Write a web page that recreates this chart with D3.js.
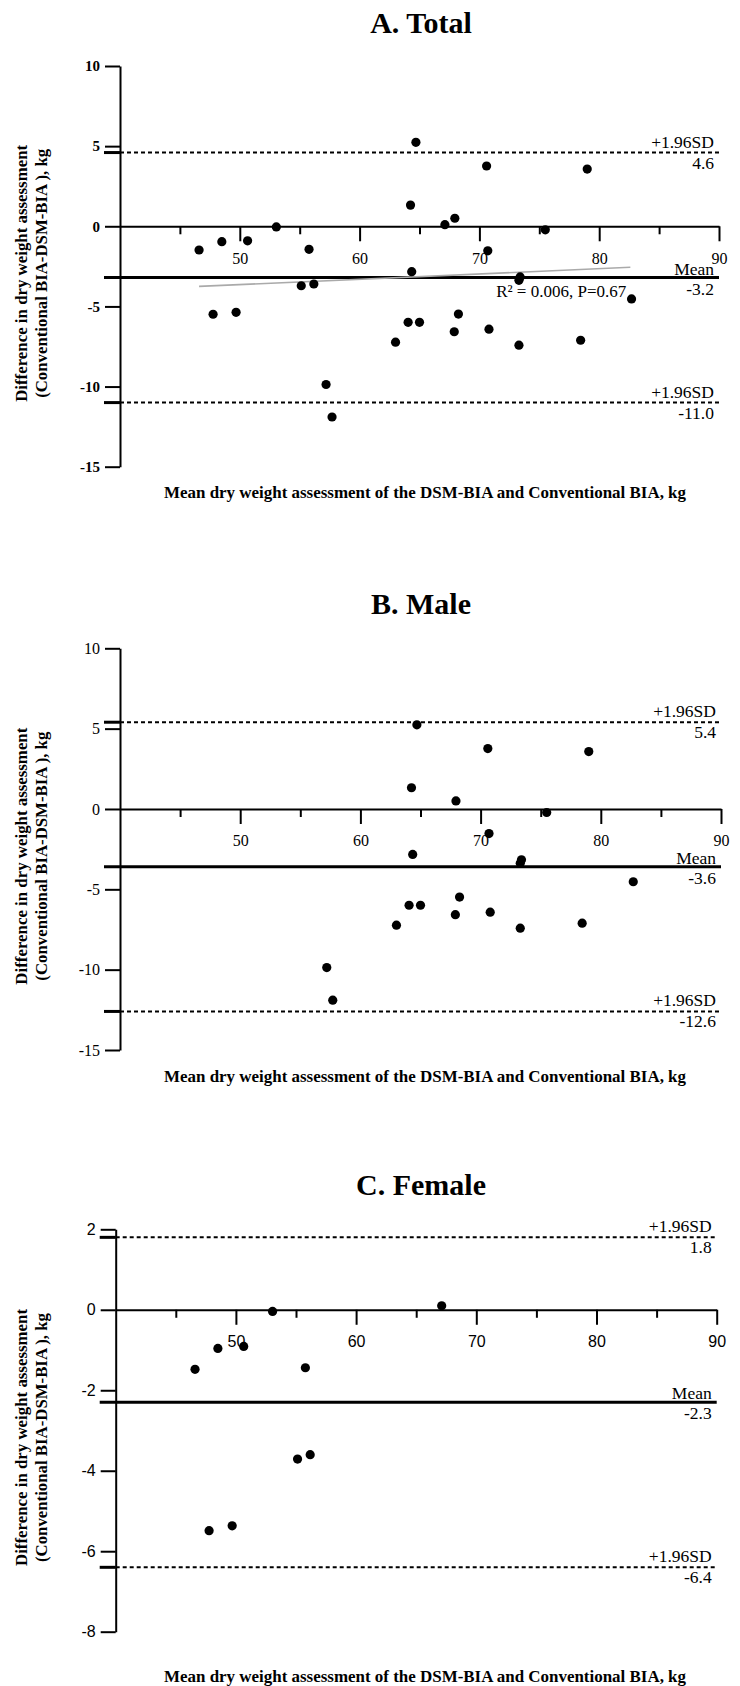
<!DOCTYPE html>
<html>
<head>
<meta charset="utf-8">
<script src="https://cdn.jsdelivr.net/npm/d3@7"></script>
<style>
  body { margin: 0; background: #fff; }
  svg { display: block; }
</style>
</head>
<body>
<div id="chart"></div>
<script>
// Bland-Altman points (x = mean weight, y = difference)
const maleX = [57.2, 57.7, 64.7, 70.6, 79.0, 64.25, 67.95, 75.5, 70.7, 64.35, 73.4, 73.3, 82.7, 68.25, 64.05, 65.0, 67.9, 70.8, 63.0, 73.3, 78.45];
const maleY = [-9.87, -11.9, 5.24, 3.76, 3.57, 1.32, 0.5, -0.22, -1.53, -2.83, -3.16, -3.37, -4.53, -5.48, -5.99, -5.99, -6.58, -6.42, -7.23, -7.42, -7.11];
const femaleX = [46.6, 48.5, 50.65, 53.05, 55.78, 55.13, 56.18, 47.77, 49.69, 67.12];
const femaleY = [-1.48, -0.96, -0.91, -0.04, -1.44, -3.71, -3.6, -5.49, -5.37, 0.1];

// upper limit, mean, lower limit
const totalLimits = [4.6, -3.2, -11.0];
const maleLimits = [5.4, -3.6, -12.6];
const femaleLimits = [1.8, -2.3, -6.4];

// regression line in the total panel (end points)
const regX = [46.6, 82.6];
const regY = [-3.75, -2.56];
const regText = "R\u00b2 = 0.006, P=0.67";

const xMajorTicks = [50, 60, 70, 80, 90];
const xMinorTicks = [45, 55, 65, 75, 85];
const yTicksWide = [10, 5, 0, -5, -10, -15];
const yTicksFemale = [2, 0, -2, -4, -6, -8];

const xTitle = "Mean dry weight assessment of the DSM-BIA and Conventional BIA, kg";
const yTitle1 = "Difference in dry weight assessment";
const yTitle2 = "(Conventional BIA-DSM-BIA ), kg";

const SERIF = "'Liberation Serif', 'Times New Roman', serif";
const SANS = "'Liberation Sans', Arial, sans-serif";

const totalX = maleX.concat(femaleX);
const totalY = maleY.concat(femaleY);

const panels = [
  { title: "A. Total", titleY: 33, xs: totalX, ys: totalY, limits: totalLimits,
    xRange: [120, 719], yDomain: [10, -15], yRange: [66, 466.7], yTicks: yTicksWide,
    yFont: SERIF, yWeight: "bold", xFont: SERIF, xLabelY: 498, reg: true },
  { title: "B. Male", titleY: 614, xs: maleX, ys: maleY, limits: maleLimits,
    xRange: [120, 721], yDomain: [10, -15], yRange: [648.3, 1050], yTicks: yTicksWide,
    yFont: SERIF, yWeight: "normal", xFont: SERIF, xLabelY: 1082 },
  { title: "C. Female", titleY: 1195, xs: femaleX, ys: femaleY, limits: femaleLimits,
    xRange: [115.7, 716.7], yDomain: [2, -8], yRange: [1229.3, 1631.7], yTicks: yTicksFemale,
    yFont: SANS, yWeight: "normal", xFont: SANS, xLabelY: 1682 }
];

const svg = d3.select("#chart").append("svg")
  .attr("width", 740)
  .attr("height", 1686);

panels.forEach(p => {
  const x = d3.scaleLinear().domain([40, 90]).range(p.xRange);
  const y = d3.scaleLinear().domain(p.yDomain).range(p.yRange);
  const g = svg.append("g");
  const x0 = p.xRange[0], x1 = p.xRange[1];

  // title
  g.append("text")
    .attr("x", 421)
    .attr("y", p.titleY)
    .attr("text-anchor", "middle")
    .style("font-family", SERIF)
    .style("font-weight", "bold")
    .style("font-size", "30px")
    .text(p.title);

  // y axis
  const yAxis = g.append("g")
    .attr("transform", `translate(${x0},0)`)
    .call(d3.axisLeft(y).tickValues(p.yTicks).tickSize(15).tickSizeOuter(0).tickPadding(5).tickFormat(d => String(d)));
  yAxis.select(".domain").attr("stroke-width", 2);
  yAxis.selectAll(".tick line").attr("stroke-width", 2);
  yAxis.selectAll("text")
    .style("font-family", p.yFont)
    .style("font-weight", p.yWeight)
    .style("font-size", p.yWeight === "bold" ? "15px" : "16px")
    .attr("fill", "#000");

  // x axis along zero
  const xAxis = g.append("g")
    .attr("transform", `translate(0,${y(0)})`)
    .call(d3.axisBottom(x).tickValues(xMajorTicks).tickSize(15).tickSizeOuter(0).tickPadding(11).tickFormat(d => String(d)));
  xAxis.select(".domain").attr("stroke-width", 2);
  xAxis.selectAll(".tick line").attr("stroke-width", 2);
  xAxis.selectAll("text")
    .style("font-family", p.xFont)
    .style("font-size", "16px")
    .attr("fill", "#000");

  const xMinor = g.append("g")
    .attr("transform", `translate(0,${y(0)})`)
    .call(d3.axisBottom(x).tickValues(xMinorTicks).tickSize(8).tickSizeOuter(0).tickFormat(""));
  xMinor.select(".domain").remove();
  xMinor.selectAll(".tick line").attr("stroke-width", 2);

  // limits of agreement
  const [upper, mean, lower] = p.limits;
  [upper, lower].forEach(v => {
    g.append("line")
      .attr("x1", x0).attr("x2", x1)
      .attr("y1", y(v)).attr("y2", y(v))
      .attr("stroke", "#000")
      .attr("stroke-width", 2)
      .attr("stroke-dasharray", "4,3");
    g.append("line")
      .attr("x1", x0 - 16).attr("x2", x0)
      .attr("y1", y(v)).attr("y2", y(v))
      .attr("stroke", "#000")
      .attr("stroke-width", 3);
  });
  g.append("line")
    .attr("x1", x0 - 16).attr("x2", x1)
    .attr("y1", y(mean)).attr("y2", y(mean))
    .attr("stroke", "#000")
    .attr("stroke-width", 3);

  const labels = [
    ["+1.96SD", y(upper) - 5], [upper.toFixed(1), y(upper) + 16],
    ["Mean", y(mean) - 3], [mean.toFixed(1), y(mean) + 17],
    ["+1.96SD", y(lower) - 5], [lower.toFixed(1), y(lower) + 16]
  ];
  g.selectAll(".lim-label")
    .data(labels)
    .enter()
    .append("text")
      .attr("class", "lim-label")
      .attr("x", x1 - 5)
      .attr("y", d => d[1])
      .attr("text-anchor", "end")
      .style("font-family", SERIF)
      .style("font-size", "17.5px")
      .text(d => d[0]);

  // regression line (total only)
  if (p.reg) {
    g.append("line")
      .attr("x1", x(regX[0])).attr("x2", x(regX[1]))
      .attr("y1", y(regY[0])).attr("y2", y(regY[1]))
      .attr("stroke", "#aaa")
      .attr("stroke-width", 1.6);
    g.append("text")
      .attr("x", x(71.4))
      .attr("y", y(-4.4))
      .style("font-family", SERIF)
      .style("font-size", "17px")
      .text(regText);
  }

  // points
  g.selectAll(".dot")
    .data(d3.range(p.xs.length))
    .enter()
    .append("circle")
      .attr("class", "dot")
      .attr("cx", i => x(p.xs[i]))
      .attr("cy", i => y(p.ys[i]))
      .attr("r", 4.6)
      .attr("fill", "#000");

  // axis titles
  g.append("text")
    .attr("x", 425)
    .attr("y", p.xLabelY)
    .attr("text-anchor", "middle")
    .attr("textLength", 522)
    .attr("lengthAdjust", "spacingAndGlyphs")
    .style("font-family", SERIF)
    .style("font-weight", "bold")
    .style("font-size", "17px")
    .text(xTitle);

  const yMid = (p.yRange[0] + p.yRange[1]) / 2 + 7;
  [[yTitle1, 27, 257], [yTitle2, 47, 249]].forEach(([t, bx, len]) => {
    g.append("text")
      .attr("transform", `translate(${bx},${yMid}) rotate(-90)`)
      .attr("text-anchor", "middle")
      .attr("textLength", len)
      .attr("lengthAdjust", "spacingAndGlyphs")
      .style("font-family", SERIF)
      .style("font-weight", "bold")
      .style("font-size", "17px")
      .text(t);
  });
});
</script>
</body>
</html>
